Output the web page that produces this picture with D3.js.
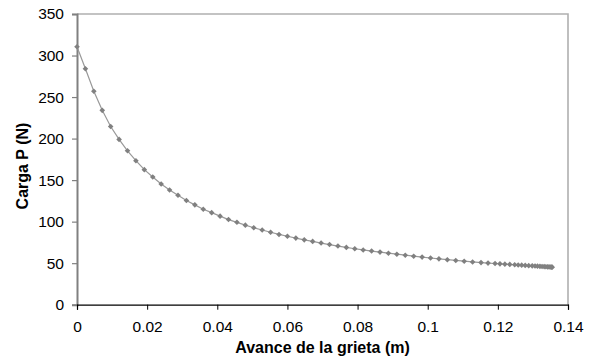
<!DOCTYPE html>
<html>
<head>
  <title>Carga vs avance de la grieta</title>
  <script src="https://d3js.org/d3.v7.min.js"></script>
  <style>
    body { margin: 0; background: #fff; }
    svg { font-family: "Liberation Sans", Arial, sans-serif; }
  </style>
</head>
<body>
  <div id="chart"></div>
  <script>
    // Crack advance (m)
    const crackAdvance = [
      0, 0.0024, 0.0048, 0.0072, 0.0096, 0.012, 0.0144, 0.0168, 0.0192, 0.0216,
      0.024, 0.0264, 0.0288, 0.0312, 0.0336, 0.036, 0.0384, 0.0408, 0.0432, 0.0456,
      0.048, 0.0504, 0.0528, 0.0552, 0.0576, 0.06, 0.0624, 0.0648, 0.0672, 0.0696,
      0.072, 0.0744, 0.0768, 0.0792, 0.0816, 0.084, 0.0864, 0.0888, 0.0912, 0.0936,
      0.096, 0.0984, 0.1008, 0.1032, 0.1056, 0.108, 0.1104, 0.1128, 0.1152,
      0.1172, 0.1192, 0.1206, 0.122, 0.1234, 0.1248, 0.1258, 0.1268, 0.1278, 0.1288,
      0.1298, 0.1306, 0.1313, 0.132, 0.1326, 0.1332, 0.1337, 0.1342, 0.1346, 0.135,
      0.1353, 0.1355
    ];

    // Load P (N) at each point
    const loadP = [
      310.5, 284, 257, 234, 214.5, 199, 185.3, 173.4, 162.6, 153.7,
      145.3, 138.1, 131.7, 125.5, 120.2, 115, 110.8, 106.6, 102.5, 99.2,
      95.8, 92.7, 89.9, 87.2, 84.6, 82.4, 80.2, 78.1, 76.2, 74.2,
      72.4, 70.6, 69, 67.4, 65.9, 64.6, 63.3, 62, 60.8, 59.6,
      58.4, 57.3, 56.2, 55.2, 54.2, 53.3, 52.4, 51.5, 50.7,
      50.1, 49.6, 49.2, 48.8, 48.5, 48.1, 47.8, 47.6, 47.3, 47.0,
      46.8, 46.6, 46.4, 46.2, 46.0, 45.9, 45.7, 45.6, 45.5, 45.4,
      45.3, 45.2
    ];

    const xTicks = [0, 0.02, 0.04, 0.06, 0.08, 0.1, 0.12, 0.14];
    const yTicks = [0, 50, 100, 150, 200, 250, 300, 350];

    const width = 595;
    const height = 360;
    const plot = { left: 77, right: 568, top: 14, bottom: 304.7 };

    const data = crackAdvance.map((a, i) => ({ a: a, p: loadP[i] }));

    const svg = d3.select("#chart")
      .append("svg")
      .attr("width", width)
      .attr("height", height);

    const x = d3.scaleLinear()
      .domain([0, 0.14])
      .range([plot.left, plot.right]);

    const y = d3.scaleLinear()
      .domain([0, 350])
      .range([plot.bottom, plot.top]);

    // plot area border (top and right, light gray)
    svg.append("path")
      .attr("d", `M${plot.left},${plot.top}H${plot.right}V${plot.bottom}`)
      .attr("fill", "none")
      .attr("stroke", "#b0b0b0")
      .attr("stroke-width", 1.6);

    // y axis
    const yAxis = svg.append("g")
      .attr("transform", `translate(${plot.left},0)`)
      .call(d3.axisLeft(y).tickValues(yTicks).tickSize(5).tickPadding(8)
        .tickFormat(d3.format("d")));
    yAxis.select(".domain").attr("stroke", "#808080").attr("stroke-width", 2);
    yAxis.selectAll(".tick line").attr("stroke", "#808080").attr("stroke-width", 1.2);
    yAxis.selectAll("text")
      .attr("fill", "#000")
      .style("font-size", "15.5px");

    // x axis
    const xAxis = svg.append("g")
      .attr("transform", `translate(0,${plot.bottom})`)
      .call(d3.axisBottom(x).tickValues(xTicks).tickSize(5).tickPadding(11)
        .tickFormat(d => d === 0 ? "0" : String(+d.toFixed(2))));
    xAxis.select(".domain").attr("stroke", "#000").attr("stroke-width", 1.2);
    xAxis.selectAll(".tick line").attr("stroke", "#000");
    xAxis.selectAll("text")
      .attr("fill", "#000")
      .style("font-size", "15.5px");

    // series line
    svg.append("path")
      .datum(data)
      .attr("fill", "none")
      .attr("stroke", "#999999")
      .attr("stroke-width", 1.2)
      .attr("d", d3.line().x(d => x(d.a)).y(d => y(d.p)));

    // diamond markers
    svg.selectAll(".marker")
      .data(data)
      .enter()
      .append("path")
      .attr("class", "marker")
      .attr("transform", d => `translate(${x(d.a)},${y(d.p)})`)
      .attr("d", "M0,-2.8L2.8,0L0,2.8L-2.8,0Z")
      .attr("fill", "#808080");

    // axis titles
    svg.append("text")
      .attr("x", (plot.left + plot.right) / 2)
      .attr("y", 353)
      .attr("text-anchor", "middle")
      .style("font-size", "16px")
      .style("font-weight", "bold")
      .text("Avance de la grieta (m)");

    svg.append("text")
      .attr("transform", "translate(27.5,166) rotate(-90)")
      .attr("text-anchor", "middle")
      .style("font-size", "16px")
      .style("font-weight", "bold")
      .text("Carga P (N)");
  </script>
</body>
</html>
